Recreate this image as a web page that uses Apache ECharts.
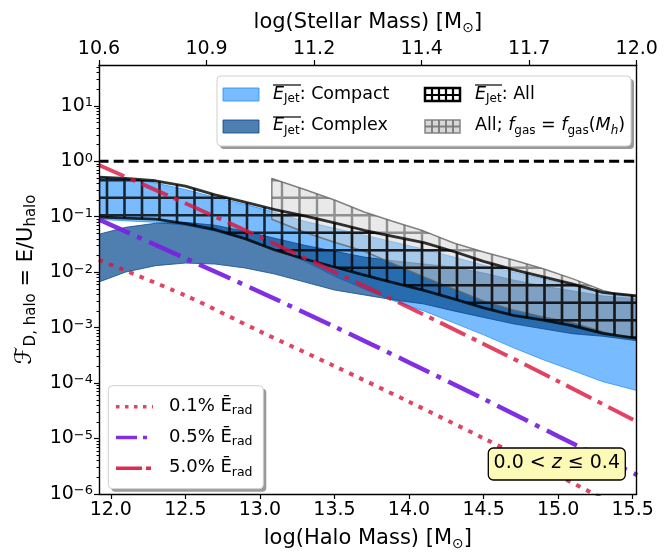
<!DOCTYPE html>
<html><head><meta charset="utf-8">
<script src="https://cdn.jsdelivr.net/npm/echarts@6/dist/echarts.min.js"></script>
<style>html,body{margin:0;padding:0;background:#fff}#c{width:671px;height:556px}</style>
</head><body><div id="c"></div>
<script>
// ---------- data ----------
const haloTicks = [12.0, 12.5, 13.0, 13.5, 14.0, 14.5, 15.0, 15.5];
const stellarTickLabels = ['10.6', '10.9', '11.2', '11.4', '11.7', '12.0'];
const yExponents = [-6, -5, -4, -3, -2, -1, 0, 1];

const bandX = [11.92, 12.1, 12.3, 12.5, 12.7, 12.9, 13.1, 13.3, 13.5, 13.7, 13.9, 14.1, 14.3, 14.5, 14.7, 14.9, 15.1, 15.3, 15.53];
const allUpper = [0.516, 0.491, 0.445, 0.357, 0.248, 0.183, 0.134, 0.104, 0.0776, 0.057, 0.0436, 0.0341, 0.0236, 0.0157, 0.0111, 0.00826, 0.0061, 0.00433, 0.00372];
const allLower = [0.0989, 0.0944, 0.0906, 0.0748, 0.0585, 0.0403, 0.0251, 0.0173, 0.0124, 0.00883, 0.0064, 0.00471, 0.0033, 0.00228, 0.00167, 0.00136, 0.00108, 0.00079, 0.00064];
const compactUpper = [0.516, 0.479, 0.406, 0.310, 0.223, 0.167, 0.120, 0.0826, 0.0619, 0.0464, 0.0347, 0.0260, 0.0187, 0.0134, 0.01005, 0.00752, 0.00564, 0.00422, 0.00329];
const compactLower = [0.0898, 0.0844, 0.0793, 0.0701, 0.0547, 0.0393, 0.0260, 0.0158, 0.00848, 0.00497, 0.00303, 0.0020, 0.00122, 0.000743, 0.000434, 0.000264, 0.000168, 0.000106, 0.0000733];
const complexUpper = [0.0483, 0.0645, 0.0762, 0.0793, 0.0701, 0.0547, 0.0409, 0.0306, 0.0239, 0.0187, 0.016, 0.0140, 0.01235, 0.00963, 0.00722, 0.00563, 0.00458, 0.00372, 0.00329];
const complexLower = [0.00664, 0.01005, 0.0131, 0.0146, 0.0140, 0.0119, 0.00925, 0.00664, 0.00477, 0.00388, 0.00316, 0.00267, 0.0020, 0.00153, 0.00117, 0.000951, 0.000774, 0.000698, 0.000579];

const gasX = [13.08, 13.3, 13.5, 13.7, 13.9, 14.1, 14.3, 14.5, 14.7, 14.9, 15.1, 15.3, 15.4, 15.53];
const gasUpper = [0.489, 0.309, 0.2, 0.122, 0.081, 0.0551, 0.0336, 0.0231, 0.0166, 0.0115, 0.00758, 0.00469, 0.00398, 0.00377];
const gasLower = [0.0898, 0.0525, 0.0347, 0.0239, 0.014, 0.00817, 0.00497, 0.00303, 0.00209, 0.00156, 0.00122, 0.00084, 0.000713, 0.000656];

const lineX = [11.92, 12.5, 13.0, 13.5, 14.0, 14.5, 15.0, 15.53];
const erad5 = [0.855, 0.175, 0.043, 0.0101, 0.00231, 0.000508, 0.000108, 0.00002];
const erad05 = [0.089, 0.0178, 0.0044, 0.00104, 0.000236, 0.000052, 0.000011, 0.0000022];
const erad01 = [0.0166, 0.0038, 0.000857, 0.000202, 0.000046, 0.0000101, 0.00000215, 0.0000004];
const unityX = [11.92, 15.53];
const unityY = [1, 1];

// ---------- rendering ----------
const L = Math.log10;
const X0 = 11.921, X1 = 15.527, Y0 = -6, Y1 = 1.736;
const FF = 'DejaVu Sans';

const minorTicks = [];
for (let d = -6; d <= 1; d++) for (let k = 2; k <= 9; k++) { const v = d + L(k); if (v < Y1) minorTicks.push(v); }

function hatchPattern(color, lw, ox, oy) {
  const P = 35, h = 17.5;
  const c = document.createElement('canvas'); c.width = P; c.height = P;
  const g = c.getContext('2d'); g.strokeStyle = color; g.lineWidth = lw;
  g.beginPath();
  for (const b of [ox, ox + h]) for (const k of [-1, 0, 1]) { const x = b + k * P; g.moveTo(x, -2); g.lineTo(x, P + 2); }
  for (const b of [oy, oy + h]) for (const k of [-1, 0, 1]) { const y = b + k * P; g.moveTo(-2, y); g.lineTo(P + 2, y); }
  g.stroke();
  return { image: c, repeat: 'repeat' };
}
const blackHatch = hatchPattern('rgba(0,0,0,0.8)', 2.6, 2, 5.2);
const grayHatch = hatchPattern('rgba(105,105,105,0.7)', 2.4, 2, 5.2);

function band(name, xs, up, lo, st, z) {
  return {
    type: 'custom', name, z, silent: true, clip: true, coordinateSystem: 'cartesian2d',
    xAxisIndex: 0, yAxisIndex: 0, animation: false,
    data: [[xs[0], L(up[0])]],
    renderItem: (params, api) => {
      const pts = [];
      for (let i = 0; i < xs.length; i++) pts.push(api.coord([xs[i], L(up[i])]));
      for (let i = xs.length - 1; i >= 0; i--) pts.push(api.coord([xs[i], L(lo[i])]));
      const ch = [];
      if (st.fill) ch.push({ type: 'polygon', shape: { points: pts }, style: { fill: st.fill, stroke: null } });
      if (st.hatch) ch.push({ type: 'polygon', shape: { points: pts }, style: { fill: st.hatch, stroke: null } });
      if (st.stroke) ch.push({ type: 'polygon', shape: { points: pts }, style: { fill: 'none', stroke: st.stroke, lineWidth: st.lw, lineJoin: 'round' } });
      return { type: 'group', children: ch };
    }
  };
}
function curve(name, xs, ys, color, width, dash, z) {
  return {
    type: 'line', name, z, silent: true, clip: true, animation: false,
    xAxisIndex: 0, yAxisIndex: 0,
    data: xs.map((x, i) => [x, L(ys[i])]),
    showSymbol: false, symbol: 'none', smooth: 0.3,
    lineStyle: { color, width, type: dash, cap: 'butt' }
  };
}

const supRich = {
  b: { fontSize: 19, lineHeight: 19, padding: [3, 0, 0, 0], verticalAlign: 'bottom', color: '#000', fontFamily: FF },
  s: { fontSize: 13, lineHeight: 13, verticalAlign: 'top', color: '#000', fontFamily: FF }
};
const nameRich = (fs, sfs) => ({
  n: { fontSize: fs, lineHeight: fs + 3, padding: [0, 0, 2, 0], verticalAlign: 'bottom', color: '#000', fontFamily: FF },
  s: { fontSize: sfs, lineHeight: sfs, verticalAlign: 'bottom', color: '#000', fontFamily: FF },
  F: { fontSize: fs + 2, lineHeight: fs + 3, padding: [0, 0, 2, 0], verticalAlign: 'bottom', color: '#000', fontFamily: 'DejaVu Sans', fontStyle: 'italic' }
});
const axisLineStyle = { color: '#000', width: 1.4 };

const option = {
  animation: false,
  textStyle: { fontFamily: FF },
  grid: { left: 99, right: 671 - 636.7, top: 65, bottom: 556 - 496.7, containLabel: false },
  xAxis: [
    {
      type: 'value', position: 'bottom', min: X0, max: X1, z: 10,
      axisLine: { show: true, onZero: false, lineStyle: axisLineStyle },
      axisTick: { show: true, length: 5, customValues: haloTicks, lineStyle: { color: '#000', width: 1.2 } },
      axisLabel: { customValues: haloTicks, formatter: v => v.toFixed(1), fontSize: 19, color: '#000', margin: 7, fontFamily: FF },
      splitLine: { show: false },
      name: '{n|log(Halo Mass) [M}{s|⊙}{n|]}', nameLocation: 'middle', nameGap: 33,
      nameTextStyle: { fontSize: 21, color: '#000', fontFamily: FF, rich: nameRich(21, 14) }
    },
    {
      type: 'value', position: 'top', min: 0, max: 5, interval: 1, z: 10,
      axisLine: { show: true, onZero: false, lineStyle: axisLineStyle },
      axisTick: { show: true, length: 5, lineStyle: { color: '#000', width: 1.2 } },
      axisLabel: { formatter: v => stellarTickLabels[Math.round(v)], fontSize: 19, color: '#000', margin: 6, fontFamily: FF, showMinLabel: true, showMaxLabel: true },
      splitLine: { show: false },
      name: '{n|log(Stellar Mass) [M}{s|⊙}{n|]}', nameLocation: 'middle', nameGap: 27,
      nameTextStyle: { fontSize: 21, color: '#000', fontFamily: FF, rich: nameRich(21, 14) }
    }
  ],
  yAxis: [
    {
      type: 'value', position: 'left', min: Y0, max: Y1, z: 10,
      axisLine: { show: true, onZero: false, lineStyle: axisLineStyle },
      axisTick: { show: true, length: 5, customValues: yExponents, lineStyle: { color: '#000', width: 1.2 } },
      axisLabel: {
        customValues: yExponents, margin: 6, color: '#000', fontFamily: FF,
        formatter: v => '{b|10}{s|' + (v < 0 ? '\u2212' + (-v) : String(v)) + '}', rich: supRich
      },
      splitLine: { show: false },
      name: '{F|ℱ}{s|D, halo}{n| = E/U}{s|halo}', nameLocation: 'middle', nameGap: 60, nameRotate: 90,
      nameTextStyle: { fontSize: 21, color: '#000', fontFamily: FF, rich: nameRich(21, 15) }
    },
    {
      type: 'value', position: 'left', min: Y0, max: Y1, z: 10,
      axisLine: { show: false }, axisLabel: { show: false }, splitLine: { show: false },
      axisTick: { show: true, length: 2.5, customValues: minorTicks, lineStyle: { color: '#000', width: 1 } }
    },
    {
      type: 'value', position: 'right', min: Y0, max: Y1, z: 10,
      axisLine: { show: true, onZero: false, lineStyle: axisLineStyle },
      axisLabel: { show: false }, axisTick: { show: false }, splitLine: { show: false }
    }
  ],
  series: [
    band('Compact', bandX, compactUpper, compactLower, { fill: 'rgba(30,144,255,0.6)', stroke: 'rgba(30,144,255,0.75)', lw: 1 }, 2),
    band('Complex', bandX, complexUpper, complexLower, { fill: 'rgba(10,77,145,0.72)', stroke: 'rgba(10,70,140,0.75)', lw: 1 }, 3),
    band('All fgas', gasX, gasUpper, gasLower, { fill: 'rgba(211,211,211,0.5)', hatch: grayHatch, stroke: 'rgba(100,100,100,0.8)', lw: 1.5 }, 4),
    band('All', bandX, allUpper, allLower, { hatch: blackHatch, stroke: 'rgba(0,0,0,0.8)', lw: 2.8 }, 5),
    curve('unity', unityX, unityY, '#000', 3, [10, 5], 6),
    curve('0.1%', lineX, erad01, 'rgba(220,20,60,0.8)', 4, [4.5, 6.5], 7),
    curve('0.5%', lineX, erad05, 'rgba(122,36,224,0.95)', 4.5, [34, 8, 5, 8], 7),
    curve('5.0%', lineX, erad5, 'rgba(220,20,60,0.8)', 4, [28, 7, 5, 7], 7)
  ],
  graphic: []
};

// ---------- legends / annotation (layout) ----------
const G = option.graphic;
const txtRich = (fs, sfs) => ({
  n: { fontSize: fs, lineHeight: fs + 3, padding: [0, 0, 2, 0], verticalAlign: 'bottom', fontFamily: FF, fill: '#000' },
  i: { fontSize: fs, lineHeight: fs + 3, padding: [0, 0, 2, 0], verticalAlign: 'bottom', fontFamily: FF, fontStyle: 'italic', fill: '#000' },
  s: { fontSize: sfs, lineHeight: sfs, verticalAlign: 'bottom', fontFamily: FF, fill: '#000' },
  si: { fontSize: sfs, lineHeight: sfs, verticalAlign: 'bottom', fontFamily: FF, fontStyle: 'italic', fill: '#000' }
});
function addText(x, y, text, fs, sfs, align) {
  G.push({ type: 'text', x, y, z: 103, silent: true,
    style: { text, fontSize: fs, fontFamily: FF, fill: '#000', align: align || 'left', verticalAlign: 'middle', rich: txtRich(fs, sfs) } });
}
function addLine(x1, y1, x2, y2, stroke, lw, dash) {
  G.push({ type: 'line', z: 103, silent: true, shape: { x1, y1, x2, y2 }, style: { stroke, lineWidth: lw, lineDash: dash || null, lineCap: 'butt' } });
}
// top legend box
G.push({ type: 'rect', z: 100, silent: true, shape: { x: 220, y: 79, width: 414, height: 70, r: 4 }, style: { fill: 'rgba(0,0,0,0.4)' } });
G.push({ type: 'rect', z: 101, silent: true, shape: { x: 217, y: 76, width: 414, height: 70, r: 4 }, style: { fill: '#fff', stroke: '#cfcfcf', lineWidth: 1 } });
G.push({ type: 'rect', z: 102, silent: true, shape: { x: 223, y: 88, width: 36, height: 13 }, style: { fill: 'rgba(30,144,255,0.6)', stroke: 'rgba(30,144,255,0.8)', lineWidth: 1 } });
G.push({ type: 'rect', z: 102, silent: true, shape: { x: 223, y: 120, width: 36, height: 13 }, style: { fill: 'rgba(10,77,145,0.72)', stroke: 'rgba(10,70,140,0.8)', lineWidth: 1 } });
addText(273, 95, '{i|E}{s|Jet}{n|: Compact}', 17.5, 12);
addLine(273, 85, 301, 85, '#000', 1.2);
addText(273, 126.5, '{i|E}{s|Jet}{n|: Complex}', 17.5, 12);
addLine(273, 117, 301, 117, '#000', 1.2);
// All swatch
G.push({ type: 'rect', z: 102, silent: true, shape: { x: 425, y: 88, width: 35, height: 13 }, style: { fill: 'none', stroke: '#000', lineWidth: 2.5 } });
for (const xx of [432, 439, 446, 453]) addLine(xx, 88, xx, 101, '#000', 2.2);
addLine(425, 95, 460, 95, '#000', 2);
addText(475, 95, '{i|E}{s|Jet}{n|: All}', 17.5, 12);
addLine(475, 85, 502, 85, '#000', 1.2);
// gray swatch
G.push({ type: 'rect', z: 102, silent: true, shape: { x: 425, y: 120, width: 35, height: 13 }, style: { fill: 'rgba(200,200,200,0.7)', stroke: 'rgba(120,120,120,0.9)', lineWidth: 1.5 } });
for (const xx of [432, 439, 446, 453]) addLine(xx, 120, xx, 133, 'rgba(120,120,120,0.9)', 2);
addLine(425, 126.5, 460, 126.5, 'rgba(120,120,120,0.9)', 2);
addText(475, 126.5, '{n|All; }{i|f}{s|gas}{n| = }{i|f}{s|gas}{n|(}{i|M}{si|h}{n|)}', 17.5, 12);

// bottom legend box
G.push({ type: 'rect', z: 100, silent: true, shape: { x: 111.3, y: 388.7, width: 155, height: 103, r: 4 }, style: { fill: 'rgba(0,0,0,0.4)' } });
G.push({ type: 'rect', z: 101, silent: true, shape: { x: 108.3, y: 385.7, width: 155, height: 103, r: 4 }, style: { fill: '#fff', stroke: '#cfcfcf', lineWidth: 1 } });
addLine(116, 406.7, 153, 406.7, 'rgba(220,20,60,0.8)', 3.5, [3.5, 5.5]);
addText(169, 406.7, '{n|0.1% Ē}{s|rad}', 18, 12.5);
addLine(116, 437.5, 153, 437.5, 'rgba(122,36,224,0.95)', 3.5, [21, 6, 4, 6]);
addText(169, 437.5, '{n|0.5% Ē}{s|rad}', 18, 12.5);
addLine(116, 468.3, 153, 468.3, 'rgba(220,20,60,0.9)', 3.5, [26, 4, 5, 4]);
addText(169, 468.3, '{n|5.0% Ē}{s|rad}', 18, 12.5);

// redshift box
G.push({ type: 'rect', z: 101, silent: true, shape: { x: 488.3, y: 448, width: 137, height: 32, r: 5 }, style: { fill: '#fcfab6', stroke: '#000', lineWidth: 1.3 } });
addText(556.8, 464, '{n|0.0 < }{i|z}{n| ≤ 0.4}', 19, 13, 'center');

const chart = echarts.init(document.getElementById('c'), null, { renderer: 'canvas', width: 671, height: 556 });
chart.setOption(option);
</script></body></html>
